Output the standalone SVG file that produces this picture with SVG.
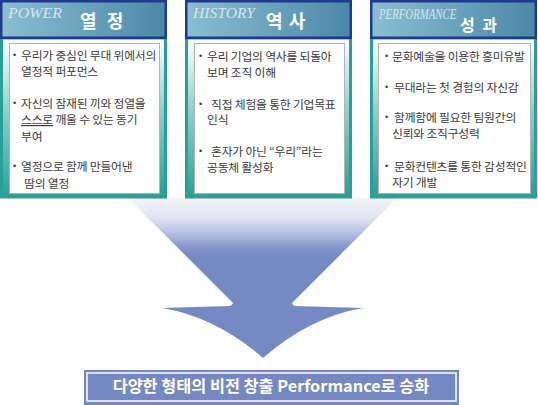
<svg xmlns="http://www.w3.org/2000/svg" width="538" height="405" viewBox="0 0 538 405">
<defs>
<linearGradient id="hdr" x1="0" y1="0" x2="1" y2="0">
<stop offset="0" stop-color="#8cbdd0"/>
<stop offset="1" stop-color="#4a88a9"/>
</linearGradient>
<linearGradient id="body" x1="0" y1="38" x2="0" y2="198" gradientUnits="userSpaceOnUse">
<stop offset="0" stop-color="#ffffff"/>
<stop offset="0.45" stop-color="#8fd0cb"/>
<stop offset="1" stop-color="#2a9e97"/>
</linearGradient>
<linearGradient id="arr" x1="0" y1="198" x2="0" y2="256" gradientUnits="userSpaceOnUse">
<stop offset="0" stop-color="#f4f5fa"/>
<stop offset="0.35" stop-color="#dfe3f0"/>
<stop offset="0.6" stop-color="#b5c0e0"/>
<stop offset="0.85" stop-color="#8797cc"/>
<stop offset="1" stop-color="#7589c3"/>
</linearGradient>
<style>
.hd{fill:url(#hdr);stroke:#1d3a8c;stroke-width:2.5}
.bd{fill:url(#body);stroke:#2a9e97;stroke-width:3}
.in{fill:#ffffff;stroke:#b3b3b3;stroke-width:1}
.sc{font-family:"Liberation Serif","DejaVu Serif",serif;font-style:italic;font-size:15px;fill:#d3e6ef}
.tt{font-family:"Noto Sans CJK KR",sans-serif;font-weight:bold;font-size:18px;fill:#ffffff}
.tx{font-family:"Noto Sans CJK KR",sans-serif;font-size:11.8px;letter-spacing:-0.2px;fill:#3a3a3a}
.bl{font-family:"Liberation Sans",sans-serif;font-size:9px;fill:#3a3a3a}
.bn{font-family:"Noto Sans CJK KR",sans-serif;font-weight:bold;font-size:16.3px;fill:#ffffff}
</style>
</defs>
<rect width="538" height="405" fill="#ffffff"/>
<g id="connectors">
<path d="M128,198 L397,198 L292,303 Q293,306 296,306 L363,308 Q310,317 263,358 Q216,317 162,308 L229,306 Q232,306 233,303 Z" fill="url(#arr)"/>
</g>
<g id="power">
<rect class="bd" x="1.5" y="38" width="164" height="159"/>
<rect class="hd" x="1.25" y="1.25" width="164.5" height="36.5"/>
<text class="sc" x="8" y="18" textLength="54" lengthAdjust="spacingAndGlyphs">POWER</text>
<text class="tt" x="80" y="28" word-spacing="6">열 정</text>
<rect class="in" x="9.5" y="43.5" width="150" height="150"/>
<text class="bl" x="13" y="58">•</text>
<text class="tx" x="21" y="60">우리가 중심인 무대 위에서의</text>
<text class="tx" x="21" y="76">열정적 퍼포먼스</text>
<text class="bl" x="13" y="106">•</text>
<text class="tx" x="21" y="108">자신의 잠재된 끼와 정열을</text>
<text class="tx" x="21" y="124"><tspan text-decoration="underline">스스로</tspan> 깨울 수 있는 동기</text>
<text class="tx" x="21" y="141">부여</text>
<text class="bl" x="13" y="169">•</text>
<text class="tx" x="21" y="171">열정으로 함께 만들어낸</text>
<text class="tx" x="24" y="188">땀의 열정</text>
</g>
<g id="history">
<rect class="bd" x="186.5" y="38" width="164" height="159"/>
<rect class="hd" x="186.25" y="1.25" width="164.5" height="36.5"/>
<text class="sc" x="193" y="18" textLength="62" lengthAdjust="spacingAndGlyphs">HISTORY</text>
<text class="tt" x="266" y="28" word-spacing="2">역 사</text>
<rect class="in" x="194.5" y="43.5" width="150" height="150"/>
<text class="bl" x="199" y="59">•</text>
<text class="tx" x="207" y="61">우리 기업의 역사를 되돌아</text>
<text class="tx" x="207" y="77">보며 조직 이해</text>
<text class="bl" x="199" y="107">•</text>
<text class="tx" x="211" y="109">직접 체험을  통한 기업목표</text>
<text class="tx" x="207" y="124">인식</text>
<text class="bl" x="199" y="154">•</text>
<text class="tx" x="211" y="156">혼자가 아닌 “우리”라는</text>
<text class="tx" x="207" y="172">공동체 활성화</text>
</g>
<g id="performance">
<rect class="bd" x="371.5" y="38" width="164" height="159"/>
<rect class="hd" x="371.25" y="1.25" width="164.5" height="36.5"/>
<text class="sc" transform="translate(379,19) scale(1,1.35)" x="0" y="0" style="font-size:10.8px">PERFORMANCE</text>
<text class="tt" x="460" y="31" word-spacing="4" style="font-size:16px">성 과</text>
<rect class="in" x="378.5" y="43.5" width="152" height="150"/>
<text class="bl" x="385" y="59">•</text>
<text class="tx" x="392" y="61">문화예술을 이용한 흥미유발</text>
<text class="bl" x="385" y="90">•</text>
<text class="tx" x="394" y="92">무대라는 첫 경험의 자신감</text>
<text class="bl" x="385" y="120">•</text>
<text class="tx" x="394" y="122">함께함에 필요한 팀원간의</text>
<text class="tx" x="392" y="138">신뢰와 조직구성력</text>
<text class="bl" x="385" y="169">•</text>
<text class="tx" x="394" y="171">문화컨텐츠를 통한 감성적인</text>
<text class="tx" x="392" y="187">자기 개발</text>
</g>
<g id="banner">
<rect x="84" y="370" width="375" height="36" fill="#7588c2"/>
<rect x="87" y="373" width="369" height="28" fill="none" stroke="#ffffff" stroke-width="1.5"/>
<text class="bn" x="271" y="392" text-anchor="middle">다양한 형태의 비전 창출 Performance로 승화</text>
</g>
</svg>
